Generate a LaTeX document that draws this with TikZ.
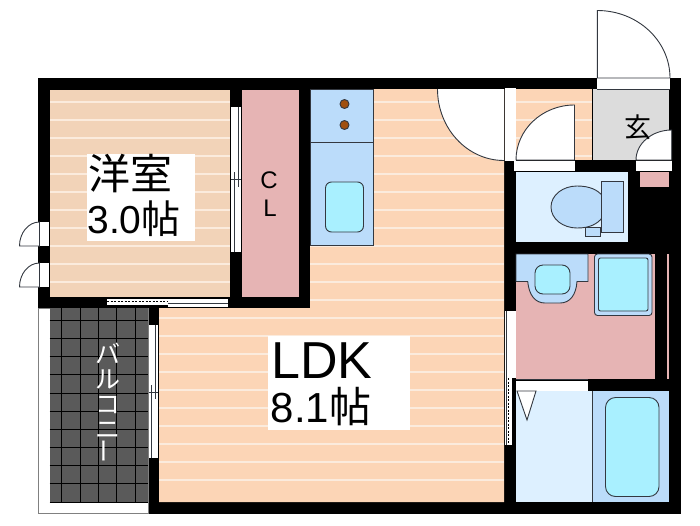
\documentclass[tikz,border=0pt]{standalone}
\usepackage{fontspec}
\usepackage{xcolor}
\setmainfont{Liberation Sans}
\newfontfamily\jpfont{Noto Sans CJK JP}
\definecolor{floorA}{HTML}{F2D3B8}
\definecolor{floorB}{HTML}{FCD5B6}
\definecolor{stripeC}{HTML}{FBEBDD}
\definecolor{clPink}{HTML}{E6B4B4}
\definecolor{fitBlue}{HTML}{BBDCFA}
\definecolor{paleBlue}{HTML}{DDF0FF}
\definecolor{tubCyan}{HTML}{A9F0FF}
\definecolor{genGray}{HTML}{DCDCDC}
\definecolor{tileGray}{HTML}{5A5A5A}
\definecolor{lineC}{HTML}{333840}
\definecolor{burnerC}{HTML}{A0500F}
\tikzset{
    fitting/.style={draw=lineC,line width=0.9pt},
    doorleaf/.style={fill=white,draw=lineC,line width=0.9pt},
    slideline/.style={draw=lineC,line width=0.7pt},
    labelbox/.style={fill=white,inner sep=0pt,align=left},
    roomtext/.style={inner sep=0pt,text=black}
}
\begin{document}
\begin{tikzpicture}[x=1pt,y=-1pt]
    \useasboundingbox (0,0) rectangle (700,525);

    % Walls and balcony
    \fill[black] (38,77.5) rectangle (681,514);
    \draw[fill=white,draw=gray,line width=0.7pt] (38.5,308) rectangle (148,513.5);
    \fill[tileGray] (49.5,308) rectangle (148,502.5);
    \foreach \tx in {61.7,80,98.3,116.7,135}
        \draw[black,line width=0.9pt] (\tx,308) -- (\tx,502.5);
    \foreach \ty in {320.7,338.7,356.7,374.7,393,411,429,447,465.3,483.3,502}
        \draw[black,line width=0.9pt] (49.5,\ty) -- (148,\ty);

    % Floors
    \fill[floorA] (50,89.5) rectangle (230,297);
    \begin{scope}
        \clip (50,89.5) rectangle (230,297);
        \foreach \ty in {0,...,10}
            \fill[stripeC] (50,101+18*\ty) rectangle (230,102.5+18*\ty);
    \end{scope}
    \fill[floorB] (310,89) -- (504,89) -- (504,502) -- (159,502) -- (159,308) -- (310,308) -- cycle;
    \begin{scope}
        \clip (310,89) -- (504,89) -- (504,502) -- (159,502) -- (159,308) -- (310,308) -- cycle;
        \foreach \ty in {0,...,21}
            \fill[stripeC] (150,101+18*\ty) rectangle (504,102.5+18*\ty);
    \end{scope}
    \fill[floorB] (516,89) rectangle (592,160);
    \begin{scope}
        \clip (516,89) rectangle (592,160);
        \foreach \ty in {0,...,3}
            \fill[stripeC] (516,101+18*\ty) rectangle (592,102.5+18*\ty);
    \end{scope}
    \fill[clPink] (242,89.5) rectangle (298.5,297);
    \fill[genGray] (592.5,89) rectangle (669,160);
    \fill[paleBlue] (516,172) rectangle (627.7,242);
    \fill[clPink] (516,254) rectangle (655,378.5);
    \fill[clPink] (666.5,254) rectangle (668.5,378.5);
    \fill[clPink] (639.5,171.5) rectangle (669,187);
    \fill[paleBlue] (516,391) rectangle (592,502.3);
    \fill[fitBlue] (592.5,391) rectangle (668.7,502.3);

    % Kitchen
    \draw[fitting,fill=fitBlue] (310,89) rectangle (373,142.7);
    \draw[fitting,fill=fitBlue] (310,142.7) rectangle (373,245);
    \draw[fitting,fill=burnerC] (344.5,104) circle (4.5);
    \draw[fitting,fill=burnerC] (344.5,125) circle (4.5);
    \draw[fitting,fill=tubCyan,rounded corners=6pt] (325.5,182) rectangle (363.5,232);

    % Toilet
    \draw[fitting,fill=fitBlue] (551,207) .. controls (551,195) and (563,186) .. (577,186) .. controls (590,186) and (597,190) .. (602,195) -- (602,218) .. controls (597,224) and (590,228) .. (577,228) .. controls (563,228) and (551,219) .. (551,207) -- cycle;
    \draw[fitting,fill=fitBlue] (601.7,181) rectangle (623.5,232.5);
    \draw[fitting,fill=fitBlue] (585.7,227) rectangle (600.7,236);

    % Wash room
    \draw[fitting,fill=fitBlue] (516,281.5) -- (527.7,281.5) .. controls (529,295) and (535,303) .. (545,303) -- (560,303) .. controls (570,303) and (576,295) .. (577,281.5) -- (588,281.5) -- (588,254) -- (516,254) -- cycle;
    \draw[fitting,fill=tubCyan,rounded corners=8pt] (535,265) rectangle (570,294);
    \draw[fitting,fill=fitBlue,rounded corners=3pt] (594.5,254) rectangle (652,315.5);
    \draw[fitting,fill=tubCyan,rounded corners=2pt] (598.5,258) rectangle (648,311);

    % Bath
    \draw[fitting] (592,391) -- (592,502.3);
    \draw[fitting,fill=tubCyan,rounded corners=10pt] (605.5,397.5) rectangle (659,496.5);

    % Openings
    \fill[white] (597.3,78) rectangle (670,89);
    \fill[white] (505,88) rectangle (515.7,160.5);
    \fill[white] (514,160.5) rectangle (574.5,171);
    \fill[white] (635.7,161) rectangle (672,171);
    \fill[white] (39.5,222) rectangle (49,246);
    \fill[white] (39.5,263) rectangle (49,287);
    \fill[white] (516,380.5) rectangle (587.7,391);
    \fill[white] (231,107) rectangle (241,252);
    \fill[white] (107,298.5) rectangle (228,307);
    \fill[white] (149,325) rectangle (158,458);
    \fill[white] (505,311) rectangle (515.7,445);
    \draw[fitting,fill=white] (517,391) -- (536,391) -- (527,420) -- cycle;

    % Doors
    \fill[white] (504,89) -- (437.5,89) arc[start angle=180,end angle=90,x radius=66.5,y radius=71.5] -- cycle;
    \draw[fitting] (437.5,89) arc[start angle=180,end angle=90,x radius=66.5,y radius=71.5];
    \draw[doorleaf] (574.5,160) -- (516,160) arc[start angle=180,end angle=270,x radius=58.5,y radius=55] -- cycle;
    \draw[doorleaf] (597.3,78) -- (597.3,10.5) arc[start angle=270,end angle=360,x radius=72.7,y radius=67.5] -- cycle;
    \draw[doorleaf] (671.7,160) -- (636,160) arc[start angle=180,end angle=270,x radius=35.7,y radius=30] -- cycle;
    \draw[doorleaf] (39.5,246) -- (19.5,246) arc[start angle=180,end angle=270,x radius=20,y radius=24] -- cycle;
    \draw[doorleaf] (39.5,287) -- (19.5,287) arc[start angle=180,end angle=270,x radius=20,y radius=24] -- cycle;
    \draw[fitting,line width=0.6pt] (597.3,89) -- (670,89);

    % Sliding doors
    \draw[slideline] (234,172) -- (234,252) (238.3,107) -- (238.3,187) (231,179.5) -- (241,179.5);
    \draw[slideline] (151,385) -- (151,458) (155.7,325) -- (155.7,399) (149,392) -- (158,392);
    \draw[slideline] (168,303) -- (228,303);
    \fill[black] (107,305) rectangle (168,308);
    \draw[black,line width=1.8pt,dash pattern=on 2pt off 1.5pt] (107,301.5) -- (168,301.5);
    \draw[slideline] (506,311) -- (506,445);
    \draw[black,line width=1.2pt,dash pattern=on 2pt off 1.5pt] (508.5,378) -- (508.5,445);
    \fill[black] (512,378) rectangle (516,445);
    \draw[fitting] (516,379.5) -- (587.7,379.5);

    % Labels
    \node[labelbox,minimum width=108pt,minimum height=87pt] (yoshitsuBox) at (141,197.5) {};
    \node[labelbox,minimum width=142pt,minimum height=94pt] (ldkBox) at (339,383) {};
    \node[roomtext,font=\fontsize{42}{42}\selectfont\jpfont] (yoshitsu) at (130,174) {洋室};
    \node[roomtext,font=\fontsize{39}{39}\selectfont] (yoshitsuArea) at (134,219) {3.0{\jpfont 帖}};
    \node[roomtext,font=\fontsize{52}{52}\selectfont] (ldk) at (322,361) {LDK};
    \node[roomtext,font=\fontsize{42}{42}\selectfont] (ldkArea) at (321,407) {8.1{\jpfont 帖}};
    \node[roomtext,font=\fontsize{24}{24}\selectfont] (clC) at (269,180) {C};
    \node[roomtext,font=\fontsize{24}{24}\selectfont] (clL) at (270,208) {L};
    \node[roomtext,font=\fontsize{27}{27}\selectfont\jpfont] (genkan) at (638,127) {玄};
    \node[roomtext,font=\fontsize{25}{25}\selectfont\jpfont,text=white,align=center] (balcony) at (108,403) {バ\\ル\\コ\\ニ\\\rotatebox{90}{ー}};
\end{tikzpicture}
\end{document}
